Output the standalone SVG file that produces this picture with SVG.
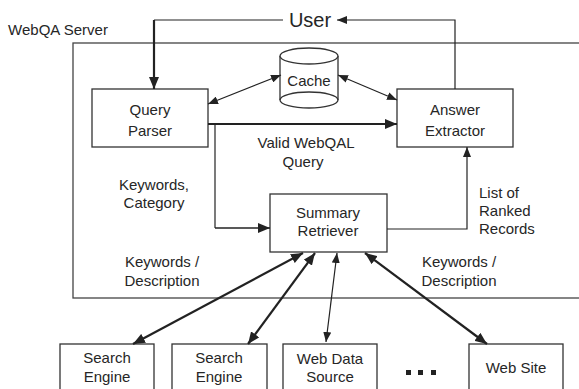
<svg xmlns="http://www.w3.org/2000/svg" width="579" height="389" viewBox="0 0 579 389">
<defs>
<style>
text{font-family:"Liberation Sans",Arial,sans-serif;font-size:15px;fill:#262626;text-anchor:middle}
.box{fill:#fff;stroke:#333;stroke-width:1.3}
.thin{fill:none;stroke:#222;stroke-width:1.2}
.med{fill:none;stroke:#222;stroke-width:1.6}
.thick{fill:none;stroke:#222;stroke-width:2.2}
</style>
<marker id="a" viewBox="0 0 10 8" refX="10" refY="4" markerWidth="10" markerHeight="8" markerUnits="userSpaceOnUse" orient="auto-start-reverse">
<path d="M0,0 L10,4 L0,8 Z" fill="#222"/>
</marker>
<marker id="b" viewBox="0 0 12 10" refX="12" refY="5" markerWidth="12" markerHeight="10" markerUnits="userSpaceOnUse" orient="auto-start-reverse">
<path d="M0,0 L12,5 L0,10 Z" fill="#222"/>
</marker>
</defs>
<rect width="579" height="389" fill="#fff"/>
<g id="server">
<rect x="73" y="43" width="540" height="255" fill="none" stroke="#444" stroke-width="1.3"/>
<text x="58" y="35">WebQA Server</text>
</g>
<g id="user"><text x="310" y="27" style="font-size:20px">User</text></g>
<g id="cache">
<path d="M280,56 V100 A29,8 0 0 0 338,100 V56" fill="#fff" stroke="#333" stroke-width="1.3"/>
<ellipse cx="309" cy="56" rx="29" ry="8" fill="#fff" stroke="#333" stroke-width="1.3"/>
<path d="M280,100 A29,8 0 0 1 338,100" fill="none" stroke="#333" stroke-width="1.3"/>
<text x="309" y="86">Cache</text>
</g>
<g id="query-parser">
<rect class="box" x="92" y="89" width="116" height="58"/>
<text x="150" y="115">Query</text>
<text x="150" y="136">Parser</text>
</g>
<g id="answer-extractor">
<rect class="box" x="397" y="89" width="116" height="58"/>
<text x="455" y="115">Answer</text>
<text x="455" y="136">Extractor</text>
</g>
<g id="summary-retriever">
<rect class="box" x="270" y="194" width="117" height="58"/>
<text x="328" y="218">Summary</text>
<text x="328" y="236">Retriever</text>
</g>
<g id="search-engine-1">
<rect class="box" x="60" y="344" width="94" height="50"/>
<text x="107" y="363">Search</text>
<text x="107" y="382">Engine</text>
</g>
<g id="search-engine-2">
<rect class="box" x="172" y="344" width="95" height="50"/>
<text x="219" y="363">Search</text>
<text x="219" y="382">Engine</text>
</g>
<g id="web-data-source">
<rect class="box" x="283" y="344" width="94" height="50"/>
<text x="330" y="364">Web Data</text>
<text x="330" y="382">Source</text>
</g>
<g id="ellipsis" fill="#222">
<rect x="406" y="370" width="5" height="5"/>
<rect x="418" y="370" width="5" height="5"/>
<rect x="431" y="370" width="5" height="5"/>
</g>
<g id="web-site">
<rect class="box" x="469" y="344" width="94" height="50"/>
<text x="516" y="373">Web Site</text>
</g>
<g id="connectors">
<path class="thin" d="M283,20 H154"/>
<path class="thick" d="M154,20 V89" marker-end="url(#b)"/>
<path class="thin" d="M455,89 V20 H337" marker-end="url(#a)"/>
<path class="thin" d="M208,104 L281,75" marker-start="url(#a)" marker-end="url(#a)"/>
<path class="thin" d="M338,75 L397,100" marker-start="url(#a)" marker-end="url(#a)"/>
<path class="thick" d="M208,124 H397" marker-end="url(#b)"/>
<path class="thin" d="M215,124 V228"/>
<path class="med" d="M215,228 H270" marker-end="url(#b)"/>
<path class="thin" d="M387,229 H467 V147" marker-end="url(#a)"/>
<path class="thick" d="M133,344 L303,253" marker-start="url(#b)" marker-end="url(#b)"/>
<path class="thick" d="M248,344 L315,253" marker-start="url(#b)" marker-end="url(#b)"/>
<path class="thin" d="M326,342 L337,253" marker-start="url(#a)" marker-end="url(#a)"/>
<path class="thick" d="M487,344 L365,253" marker-start="url(#b)" marker-end="url(#b)"/>
</g>
<g id="labels">
<text x="306" y="148">Valid WebQAL</text>
<text x="303" y="167">Query</text>
<text x="154" y="190">Keywords,</text>
<text x="154" y="208">Category</text>
<text x="162" y="267">Keywords /</text>
<text x="162" y="286">Description</text>
<text x="459" y="267">Keywords /</text>
<text x="459" y="286">Description</text>
<text x="479" y="198" style="text-anchor:start">List of</text>
<text x="479" y="216" style="text-anchor:start">Ranked</text>
<text x="479" y="234" style="text-anchor:start">Records</text>
</g>
</svg>
